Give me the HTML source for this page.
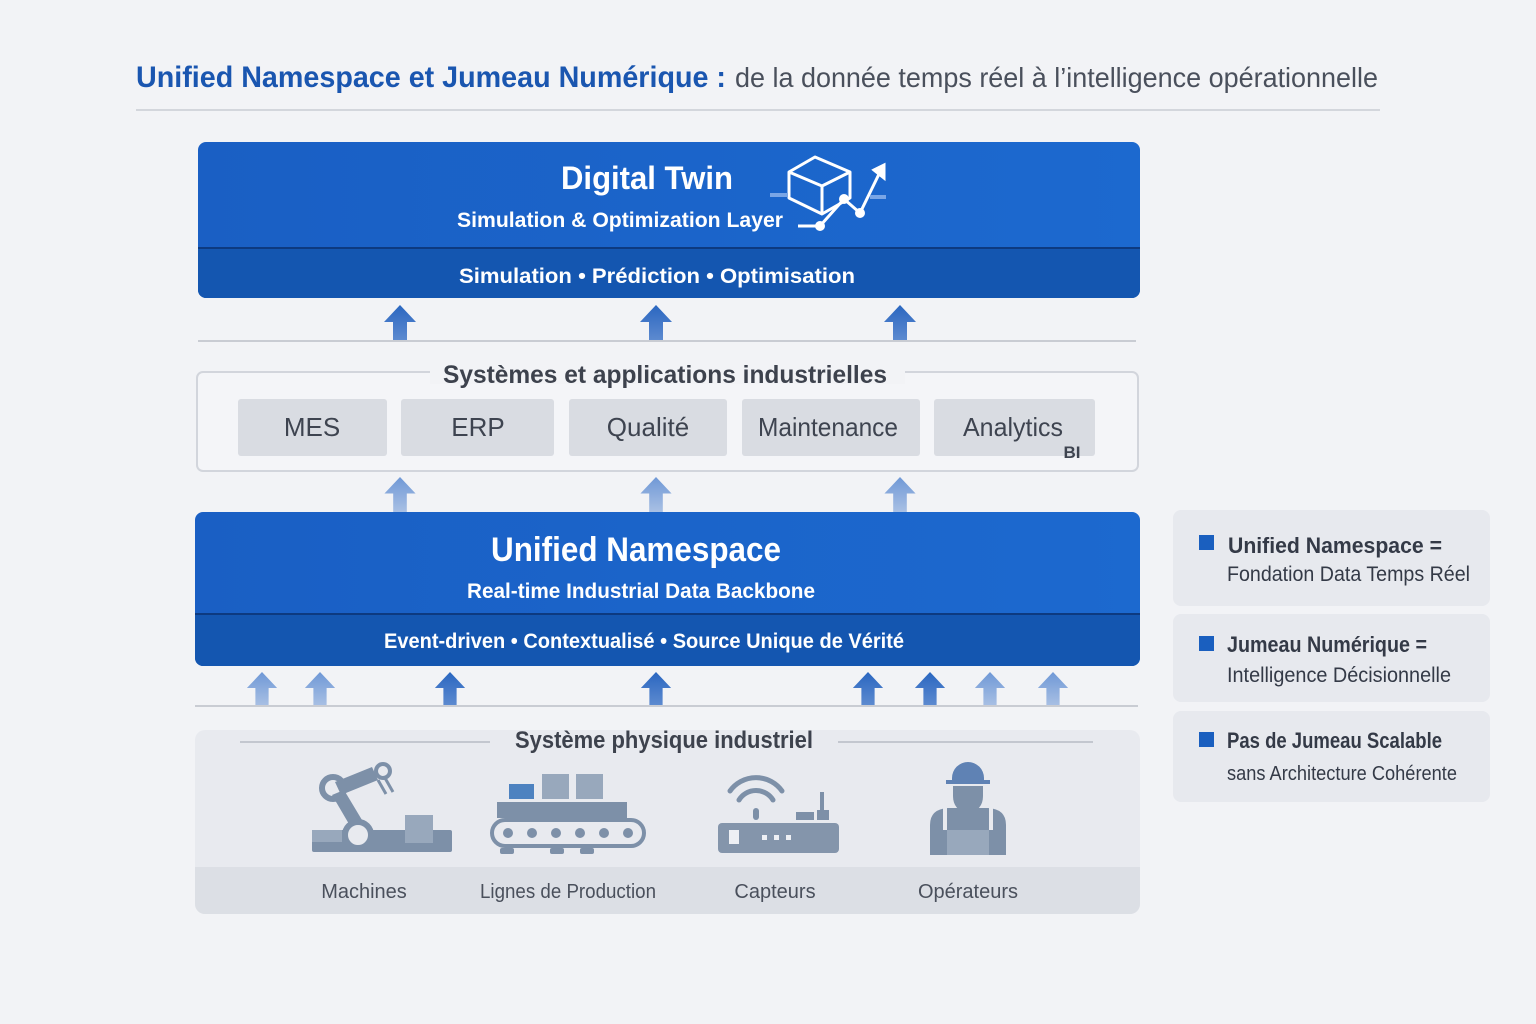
<!DOCTYPE html>
<html><head><meta charset="utf-8"><style>
html,body{margin:0;padding:0;background:#f2f3f6;}
svg{display:block;font-family:"Liberation Sans",sans-serif;}
</style></head><body>
<svg width="1536" height="1024" viewBox="0 0 1536 1024" xmlns="http://www.w3.org/2000/svg">
<defs>
<linearGradient id="bl" x1="0" y1="0" x2="1" y2="0"><stop offset="0" stop-color="#1a5fc4"/><stop offset="1" stop-color="#1c69cf"/></linearGradient>
<linearGradient id="ar" x1="0" y1="0" x2="0" y2="1"><stop offset="0" stop-color="#2a66c0"/><stop offset="1" stop-color="#5e8bd0"/></linearGradient>
<linearGradient id="ar2" x1="0" y1="0" x2="0" y2="1"><stop offset="0" stop-color="#6f98d6"/><stop offset="1" stop-color="#a9c0e4"/></linearGradient>
<symbol id="arrow" viewBox="0 0 32 36"><path d="M16 0 L32 17 L23 17 L23 36 L9 36 L9 17 L0 17 Z"/></symbol>
</defs>
<rect width="1536" height="1024" fill="#f2f3f6"/>
<!-- Title -->
<text x="136" y="87" font-size="30" font-weight="bold" fill="#1a56b0" textLength="590" lengthAdjust="spacingAndGlyphs">Unified Namespace et Jumeau Numérique :</text>
<text x="735" y="87" font-size="28" fill="#4a505c" textLength="643" lengthAdjust="spacingAndGlyphs">de la donnée temps réel à l’intelligence opérationnelle</text>
<line x1="136" y1="110" x2="1380" y2="110" stroke="#d3d6dc" stroke-width="2"/>

<!-- Digital Twin -->
<rect x="198" y="142" width="942" height="156" rx="8" fill="url(#bl)"/>
<path d="M198 248 H1140 V290 a8 8 0 0 1 -8 8 H206 a8 8 0 0 1 -8 -8 Z" fill="#1456b0"/>
<line x1="198" y1="248" x2="1140" y2="248" stroke="#0d3a80" stroke-width="2"/>
<text x="647" y="189" font-size="32" font-weight="bold" fill="#fff" text-anchor="middle" textLength="172" lengthAdjust="spacingAndGlyphs">Digital Twin</text>
<text x="620" y="227" font-size="21" font-weight="bold" fill="#fff" text-anchor="middle" textLength="326" lengthAdjust="spacingAndGlyphs">Simulation &amp; Optimization Layer</text>
<text x="657" y="283" font-size="21" font-weight="bold" fill="#fff" text-anchor="middle" textLength="396" lengthAdjust="spacingAndGlyphs">Simulation • Prédiction • Optimisation</text>
<!-- cube icon -->
<g fill="none" stroke="#fff" stroke-width="3" stroke-linejoin="round">
<path d="M789 172 L815 157 L850 172 L850 198 L822 214 L789 198 Z M789 172 L822 186 L850 172 M822 186 V214"/>
<path d="M798 226 H820 L844 199 L860 213 L880 172"/>
</g>
<path d="M874 170 L884 165 L884 178 Z" fill="#fff" stroke="#fff" stroke-width="3"/>
<circle cx="820" cy="226" r="5" fill="#fff"/><circle cx="844" cy="199" r="5" fill="#fff"/><circle cx="860" cy="213" r="5" fill="#fff"/>
<rect x="770" y="193" width="18" height="4" fill="#7aa6e6"/><rect x="870" y="195" width="16" height="4" fill="#7aa6e6"/>

<!-- arrows to DT -->
<g fill="url(#ar)">
<use href="#arrow" x="384" y="305" width="32" height="36"/>
<use href="#arrow" x="640" y="305" width="32" height="36"/>
<use href="#arrow" x="884" y="305" width="32" height="36"/>
</g>
<line x1="198" y1="341" x2="1136" y2="341" stroke="#c9ccd3" stroke-width="2"/>

<!-- Systems -->
<rect x="197" y="372" width="941" height="99" rx="6" fill="#f4f5f8" stroke="#d2d5dc" stroke-width="2"/>
<rect x="430" y="364" width="475" height="20" fill="#f2f3f6"/>
<text x="665" y="383" font-size="25" font-weight="bold" fill="#3d424d" text-anchor="middle" textLength="444" lengthAdjust="spacingAndGlyphs">Systèmes et applications industrielles</text>
<g fill="#d9dce2">
<rect x="238" y="399" width="149" height="57" rx="3"/>
<rect x="401" y="399" width="153" height="57" rx="3"/>
<rect x="569" y="399" width="158" height="57" rx="3"/>
<rect x="742" y="399" width="178" height="57" rx="3"/>
<rect x="934" y="399" width="161" height="57" rx="3"/>
</g>
<g font-size="26" fill="#3e4450" text-anchor="middle">
<text x="312" y="436">MES</text>
<text x="478" y="436">ERP</text>
<text x="648" y="436">Qualité</text>
<text x="828" y="436" textLength="140" lengthAdjust="spacingAndGlyphs">Maintenance</text>
<text x="1013" y="436" textLength="100" lengthAdjust="spacingAndGlyphs">Analytics</text>
</g>
<text x="1072" y="458" font-size="17" font-weight="bold" fill="#3e4450" text-anchor="middle">BI</text>

<g fill="url(#ar2)">
<use href="#arrow" x="384" y="477" width="32" height="35"/>
<use href="#arrow" x="640" y="477" width="32" height="35"/>
<use href="#arrow" x="884" y="477" width="32" height="35"/>
</g>

<!-- UNS -->
<rect x="195" y="512" width="945" height="154" rx="8" fill="url(#bl)"/>
<path d="M195 614 H1140 V658 a8 8 0 0 1 -8 8 H203 a8 8 0 0 1 -8 -8 Z" fill="#1456b0"/>
<line x1="195" y1="614" x2="1140" y2="614" stroke="#0d3a80" stroke-width="2"/>
<text x="636" y="561" font-size="34" font-weight="bold" fill="#fff" text-anchor="middle" textLength="290" lengthAdjust="spacingAndGlyphs">Unified Namespace</text>
<text x="641" y="598" font-size="21" font-weight="bold" fill="#fff" text-anchor="middle" textLength="348" lengthAdjust="spacingAndGlyphs">Real-time Industrial Data Backbone</text>
<text x="644" y="648" font-size="21" font-weight="bold" fill="#fff" text-anchor="middle" textLength="520" lengthAdjust="spacingAndGlyphs">Event-driven • Contextualisé • Source Unique de Vérité</text>

<g>
<use href="#arrow" x="246" y="672" width="32" height="34" fill="url(#ar2)"/>
<use href="#arrow" x="304" y="672" width="32" height="34" fill="url(#ar2)"/>
<use href="#arrow" x="434" y="672" width="32" height="34" fill="url(#ar)"/>
<use href="#arrow" x="640" y="672" width="32" height="34" fill="url(#ar)"/>
<use href="#arrow" x="852" y="672" width="32" height="34" fill="url(#ar)"/>
<use href="#arrow" x="914" y="672" width="32" height="34" fill="url(#ar)"/>
<use href="#arrow" x="974" y="672" width="32" height="34" fill="url(#ar2)"/>
<use href="#arrow" x="1037" y="672" width="32" height="34" fill="url(#ar2)"/>
</g>
<line x1="195" y1="706" x2="1138" y2="706" stroke="#c9ccd3" stroke-width="2"/>

<!-- Physical -->
<rect x="195" y="730" width="945" height="184" rx="10" fill="#e8eaef"/>
<path d="M195 867 H1140 V904 a10 10 0 0 1 -10 10 H205 a10 10 0 0 1 -10 -10 Z" fill="#dcdfe5"/>
<line x1="240" y1="742" x2="490" y2="742" stroke="#c3c7cf" stroke-width="2"/>
<line x1="838" y1="742" x2="1093" y2="742" stroke="#c3c7cf" stroke-width="2"/>
<text x="664" y="748" font-size="24" font-weight="bold" fill="#3d424d" text-anchor="middle" textLength="298" lengthAdjust="spacingAndGlyphs">Système physique industriel</text>
<g font-size="20" fill="#4a505c" text-anchor="middle">
<text x="364" y="898">Machines</text>
<text x="568" y="898" textLength="176" lengthAdjust="spacingAndGlyphs">Lignes de Production</text>
<text x="775" y="898">Capteurs</text>
<text x="968" y="898">Opérateurs</text>
</g>
<!-- robot -->
<g fill="#7d90a8">
<rect x="312" y="830" width="140" height="22" rx="2"/>
<rect x="405" y="815" width="28" height="28" fill="#98a8bc"/>
<rect x="312" y="830" width="30" height="12" fill="#98a8bc"/>
<path d="M332 795 L344 790 L368 830 L356 836 Z"/>
<path d="M335 782 L372 767 L378 780 L341 795 Z"/>
</g>
<circle cx="333" cy="788" r="11" fill="none" stroke="#7d90a8" stroke-width="6"/>
<circle cx="358" cy="835" r="13" fill="#e8eaef" stroke="#7d90a8" stroke-width="6"/>
<circle cx="383" cy="771" r="7" fill="none" stroke="#7d90a8" stroke-width="4"/>
<path d="M385 778 L393 792 M378 780 L386 794" stroke="#7d90a8" stroke-width="3" fill="none"/>
<!-- conveyor -->
<rect x="509" y="784" width="25" height="15" fill="#4d82c0"/>
<rect x="542" y="774" width="27" height="25" fill="#98a8bc"/>
<rect x="576" y="774" width="27" height="25" fill="#98a8bc"/>
<rect x="497" y="802" width="130" height="16" fill="#7d90a8"/>
<rect x="492" y="820" width="152" height="26" rx="13" fill="none" stroke="#7d90a8" stroke-width="4"/>
<g fill="#7d90a8"><circle cx="508" cy="833" r="5"/><circle cx="532" cy="833" r="5"/><circle cx="556" cy="833" r="5"/><circle cx="580" cy="833" r="5"/><circle cx="604" cy="833" r="5"/><circle cx="628" cy="833" r="5"/>
<rect x="500" y="848" width="14" height="6" rx="2"/><rect x="550" y="848" width="14" height="6" rx="2"/><rect x="580" y="848" width="14" height="6" rx="2"/></g>
<!-- router -->
<rect x="718" y="823" width="121" height="30" rx="4" fill="#8495ab"/>
<rect x="729" y="830" width="10" height="14" fill="#eef0f4"/>
<g fill="#eef0f4"><rect x="762" y="835" width="5" height="5"/><rect x="774" y="835" width="5" height="5"/><rect x="786" y="835" width="5" height="5"/></g>
<rect x="820" y="792" width="4" height="23" fill="#7d90a8"/><rect x="817" y="810" width="12" height="10" fill="#7d90a8"/><rect x="796" y="812" width="18" height="8" fill="#7d90a8"/>
<g fill="none" stroke="#7d90a8" stroke-width="5" stroke-linecap="round">
<path d="M730 791 A32 32 0 0 1 782 791"/><path d="M739 800 A20 20 0 0 1 773 800"/>
</g>
<rect x="753" y="808" width="6" height="12" rx="3" fill="#7d90a8"/>
<!-- worker -->
<g fill="#7d90a8">
<path d="M952 778 a16 16 0 0 1 32 0 v2 h6 v4 h-44 v-4 h6 Z" fill="#5f82b4"/>
<path d="M953 786 h30 v10 q0 14 -15 18 q-15 -4 -15 -18 Z"/>
<path d="M930 855 v-30 q0 -16 18 -17 h40 q18 1 18 17 v30 Z"/>
</g>
<rect x="947" y="830" width="42" height="25" fill="#98a8bc"/>
<path d="M945 808 v22 M991 808 v22" stroke="#e8eaef" stroke-width="4"/>

<!-- right cards -->
<g fill="#e7e9ee">
<rect x="1173" y="510" width="317" height="96" rx="8"/>
<rect x="1173" y="614" width="317" height="88" rx="8"/>
<rect x="1173" y="711" width="317" height="91" rx="8"/>
</g>
<g fill="#1a5fbf">
<rect x="1199" y="535" width="15" height="15"/>
<rect x="1199" y="636" width="15" height="15"/>
<rect x="1199" y="732" width="15" height="15"/>
</g>
<g fill="#343a47">
<text x="1228" y="553" font-size="22" font-weight="bold" textLength="214" lengthAdjust="spacingAndGlyphs">Unified Namespace =</text>
<text x="1227" y="581" font-size="21" textLength="243" lengthAdjust="spacingAndGlyphs">Fondation Data Temps Réel</text>
<text x="1227" y="652" font-size="22" font-weight="bold" textLength="200" lengthAdjust="spacingAndGlyphs">Jumeau Numérique =</text>
<text x="1227" y="682" font-size="21" textLength="224" lengthAdjust="spacingAndGlyphs">Intelligence Décisionnelle</text>
<text x="1227" y="748" font-size="22" font-weight="bold" textLength="215" lengthAdjust="spacingAndGlyphs">Pas de Jumeau Scalable</text>
<text x="1227" y="780" font-size="20" textLength="230" lengthAdjust="spacingAndGlyphs">sans Architecture Cohérente</text>
</g>
</svg>
</body></html>
